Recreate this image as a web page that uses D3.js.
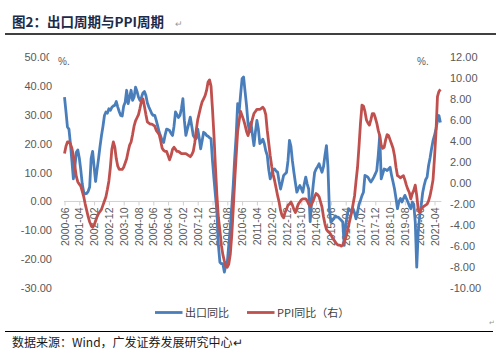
<!DOCTYPE html>
<html><head><meta charset="utf-8">
<script src="https://cdn.jsdelivr.net/npm/d3@7"></script>
<style>
html,body{margin:0;padding:0;background:#fff;}
svg{display:block;}
</style></head>
<body>
<script>
// ---------- DATA ----------
const startYear = 2000, startMonth = 6, nMonths = 255;
const categories = [];
for (let k = 0; k < nMonths; k++) {
  const m = startMonth - 1 + k;
  categories.push((startYear + Math.floor(m / 12)) + "-" + String(m % 12 + 1).padStart(2, "0"));
}
const tickLabels = ["2000-06","2001-04","2002-02","2002-12","2003-10","2004-08","2005-06","2006-04","2007-02","2007-12","2008-10","2009-08","2010-06","2011-04","2012-02","2012-12","2013-10","2014-08","2015-06","2016-04","2017-02","2017-12","2018-10","2019-08","2020-06","2021-04"];
const leftTicks = [50,40,30,20,10,0,-10,-20,-30];
const rightTicks = [12,10,8,6,4,2,0,-2,-4,-6,-8,-10];
const seriesNames = ["出口同比","PPI同比（右）"];

// 出口同比 (left axis, %)
const exportYoY = [
 36,31,25.7,25,20,14,7.8,12,17,17.8,
 15,10.9,6,3.2,2.6,2.8,3.5,5,14.8,17.3,
 12,6.9,11,14.8,19,22.8,26,29.7,30.9,30.5,
 32,31.5,32.5,33,33.2,34.5,32.6,31,29.7,29.5,
 33,34.3,38.4,33.8,36,38.4,34.9,36,39.5,38,
 36,34.9,36,37.5,38,36.6,34,32.6,31.5,30.3,
 29.7,29.7,28,26,23.9,22.5,21,20.4,23,25,
 24.8,24.5,23.5,22.8,26,30.9,30,29,29.7,32,
 35.5,28,22.8,25,27,29.1,26,22.8,22,21.7,
 25,22,18.2,21,23.9,23.5,22.8,22.5,22,21.7,
 14,7.8,2,-3.7,-15.2,-21,-21.5,-21.5,-24.4,-22,
 -21,-15,-9.4,-2,5.6,15,22.8,33.8,30.9,37,
 42.4,43,38,33.2,27,24,27.3,23,19.3,24,
 28,25,20,20.5,21.5,20,17.5,15.9,11,7.8,
 9.5,11,11.2,10.5,10.1,7,4.3,6.5,8.9,9.5,
 10,14,21.1,19,14,10.1,6.5,3.2,4.5,5.5,
 4.5,3.2,6,8.4,6,4.3,-7,0,5.5,10,
 11.2,12,13,11.5,10.1,12,16,19.3,12,-3,
 -7.2,-6.5,-6,-5,-5.4,-5.4,-6,-6.5,-7.1,-15.2,
 -8,-4.8,-2.5,-3,-3.7,-2.5,-4,-6,-3.7,-1,
 0.4,2,3.2,9,8.7,8.4,7.5,6.7,7.5,8.4,
 9.5,10.7,16,22.8,7.8,9.5,11.2,11,10.7,11.2,
 11.8,9,6.7,4.3,1,-2.5,0,1,-0.2,1,
 2.1,1,-0.2,-1.5,-2.5,-0.2,-1,-7.1,-22.7,-10.6,
 -5,-1.4,3,5.5,7.5,8.4,12.4,15,18.2,21,
 22.8,25,28,29.7,27.3
];
// PPI同比 (right axis, %)
const ppiYoY = [
 2.8,3.5,3.9,3.9,3.7,3.3,2.6,1.6,0.6,0.1,
 -0.1,-0.3,-0.8,-1.3,-2.0,-2.6,-3.2,-3.7,-4.0,-4.2,
 -4.0,-3.6,-3.2,-2.9,-2.7,-2.5,-2.1,-1.7,-1.3,-0.6,
 0.2,1.5,3.2,3.9,3.4,2.3,1.6,1.3,1.3,1.3,
 1.5,1.9,2.3,3.0,3.6,3.9,4.6,5.4,5.9,6.2,
 6.5,7.1,7.8,8.0,7.3,6.5,5.8,5.7,5.6,5.6,
 5.5,5.4,5.0,4.8,4.6,4.0,3.3,3.1,3.0,3.0,
 2.6,2.2,2.6,3.2,3.4,3.2,3.0,3.0,2.9,2.8,
 2.8,2.8,2.8,2.7,2.6,2.5,2.7,3.0,3.8,5.0,
 6.0,6.6,7.2,7.7,8.0,8.3,8.8,9.6,9.8,9.2,
 7.0,4.5,1.5,-1.2,-3.3,-4.5,-5.9,-6.8,-7.4,-7.9,
 -8.0,-7.7,-6.8,-5.0,-2.5,0.2,2.6,4.9,5.9,6.8,
 6.4,6.0,5.5,4.9,4.5,5.0,5.5,6.1,6.6,6.8,
 7.0,7.0,7.0,7.1,7.2,7.0,6.5,5.0,3.8,2.6,
 1.6,0.8,0.2,-0.5,-1.2,-1.8,-2.6,-3.1,-3.3,-2.8,
 -2.5,-2.1,-2.0,-1.8,-2.1,-2.5,-2.8,-2.4,-2.0,-1.8,
 -1.6,-1.5,-1.5,-1.5,-1.7,-2.0,-2.2,-2.0,-1.7,-1.3,
 -1.0,-1.1,-1.3,-1.8,-2.3,-3.2,-3.9,-4.4,-4.6,-4.7,
 -4.9,-5.2,-5.4,-5.6,-5.8,-5.9,-5.9,-6.0,-5.9,-5.6,
 -5.2,-4.7,-4.0,-3.4,-2.8,-2.0,-1.2,0.2,1.5,3.5,
 5.7,7.4,7.3,6.8,6.0,5.7,5.5,6.0,6.6,6.6,
 6.2,5.7,5.0,4.5,3.6,3.3,3.4,4.1,4.6,4.5,
 4.1,3.7,3.3,2.6,1.5,0.7,0.6,0.5,0.6,0.7,
 0.3,-0.2,-0.6,-0.9,-1.5,-1.0,-0.7,-0.2,-1.2,-2.5,
 -2.8,-2.5,-2.3,-2.2,-2.1,-2.0,-1.7,-1.2,-0.5,0.3,
 2.4,4.8,8.2,8.7,8.9
];
const colors = ["#4a7ebb","#c0504d"];

// ---------- DRAW ----------
const W = 496, H = 356;
const svg = d3.select("body").append("svg").attr("width", W).attr("height", H);
const FONT = "'Liberation Sans', Arial, sans-serif";
const CJK = "'Noto Sans CJK SC', sans-serif";

// title
svg.append("text").attr("x", 12).attr("y", 27).attr("font-family", CJK)
  .attr("font-weight", "bold").attr("font-size", 13.5).attr("fill", "#1c2a4a")
  .text("图2：出口周期与PPI周期");
svg.append("text").attr("x", 175).attr("y", 27).attr("font-family", FONT)
  .attr("font-size", 9).attr("fill", "#999").text("↵");
svg.append("line").attr("x1", 5).attr("x2", 496).attr("y1", 34).attr("y2", 34)
  .attr("stroke", "#000").attr("stroke-width", 1.6);

const x = d3.scalePoint().domain(categories).range([64.5, 64.5 + 1.48 * (nMonths - 1)]);
const yL = d3.scaleLinear().domain([-30, 50]).range([288.3, 56.7]);
const yR = d3.scaleLinear().domain([-10, 12]).range([288.3, 56.7]);

// left axis
const gL = svg.append("g").attr("transform", "translate(52,0)")
  .call(d3.axisLeft(yL).tickValues(leftTicks).tickFormat(d => d.toFixed(2)).tickSize(0).tickPadding(0));
gL.select(".domain").remove();
gL.selectAll("text").attr("font-family", FONT).attr("font-size", 11).attr("fill", "#595959");
// the top label is cut off at its right edge in the reference
svg.append("clipPath").attr("id", "clip50").append("rect")
  .attr("x", -60).attr("y", -12).attr("width", 57.3).attr("height", 24);
gL.selectAll(".tick").filter(d => d === 50).select("text").attr("clip-path", "url(#clip50)");

// right axis
const gR = svg.append("g").attr("transform", "translate(450,0)")
  .call(d3.axisRight(yR).tickValues(rightTicks).tickFormat(d => d.toFixed(2)).tickSize(0).tickPadding(0));
gR.select(".domain").remove();
gR.selectAll("text").attr("font-family", FONT).attr("font-size", 11).attr("fill", "#595959");

// unit marks
svg.append("text").attr("x", 58).attr("y", 65).attr("font-family", FONT).attr("font-size", 10).attr("fill", "#595959").text("%.");
svg.append("text").attr("x", 417).attr("y", 65).attr("font-family", FONT).attr("font-size", 10).attr("fill", "#595959").text("%.");

// x axis
const gX = svg.append("g").attr("transform", `translate(0,${yL(0)})`)
  .call(d3.axisBottom(x).tickValues(tickLabels).tickSize(4).tickSizeOuter(0));
gX.select(".domain").attr("stroke", "#d0d0d0").attr("d", `M${x(categories[0]) - 0.5},0H${x(categories[nMonths - 1]) + 1}`);
gX.selectAll(".tick line").attr("stroke", "#d0d0d0");
gX.selectAll(".tick text").attr("font-family", FONT).attr("font-size", 10.5).attr("fill", "#595959")
  .attr("transform", "rotate(-90)").attr("text-anchor", "end")
  .attr("x", -6).attr("y", 0).attr("dy", "0.35em");

// lines
const lineL = d3.line().x((d, i) => x(categories[i])).y(d => yL(d));
const lineR = d3.line().x((d, i) => x(categories[i])).y(d => yR(d));
svg.append("path").datum(exportYoY).attr("d", lineL).attr("fill", "none")
  .attr("stroke", colors[0]).attr("stroke-width", 2.8).attr("stroke-linejoin", "round");
svg.append("path").datum(ppiYoY).attr("d", lineR).attr("fill", "none")
  .attr("stroke", colors[1]).attr("stroke-width", 2.8).attr("stroke-linejoin", "round");

// legend
const legend = [{x: 155, name: seriesNames[0], c: colors[0]}, {x: 247, name: seriesNames[1], c: colors[1]}];
legend.forEach(l => {
  svg.append("line").attr("x1", l.x).attr("x2", l.x + 27.5).attr("y1", 312.5).attr("y2", 312.5)
    .attr("stroke", l.c).attr("stroke-width", 2.8);
  svg.append("text").attr("x", l.x + 30).attr("y", 316.5).attr("font-family", CJK)
    .attr("font-size", 11).attr("fill", "#404040").text(l.name);
});

svg.append("text").attr("x", 489).attr("y", 325).attr("font-family", FONT).attr("font-size", 7).attr("fill", "#999").text("↵");
svg.append("line").attr("x1", 5).attr("x2", 493).attr("y1", 331.5).attr("y2", 331.5)
  .attr("stroke", "#000").attr("stroke-width", 1.2);
svg.append("text").attr("x", 12).attr("y", 347).attr("font-family", CJK)
  .attr("font-size", 12).attr("fill", "#1a1a1a").text("数据来源：Wind，广发证券发展研究中心↵");
</script>
</body></html>
